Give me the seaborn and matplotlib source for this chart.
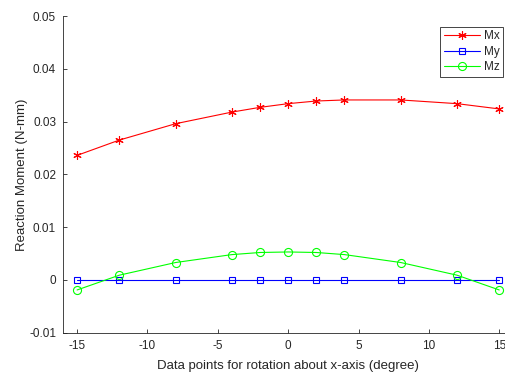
import numpy as np
import pandas as pd
import matplotlib
matplotlib.use("Agg")
import matplotlib.pyplot as plt
import seaborn as sns

# rotation angles (degree)
angle = [-15, -12, -8, -4, -2, 0, 2, 4, 8, 12, 15]

# reaction moments
mx = [0.0236, 0.0265, 0.0296, 0.0318, 0.0327, 0.0334, 0.0339, 0.0341, 0.0341, 0.0334, 0.0324]
my = [0, 0, 0, 0, 0, 0, 0, 0, 0, 0, 0]
mz = [-0.0019, 0.0009, 0.0033, 0.0048, 0.0052, 0.0053, 0.0052, 0.0048, 0.0033, 0.0009, -0.0019]

sns.set_style("ticks")
plt.rcParams['font.family'] = ['Liberation Sans', 'DejaVu Sans']
plt.rcParams['axes.unicode_minus'] = False
plt.rcParams['xtick.direction'] = 'in'
plt.rcParams['ytick.direction'] = 'in'

fig = plt.figure(figsize=(5.05, 3.72), dpi=100)
# axes runs past the right edge, like the cropped original
ax = fig.add_axes([0.1248, 0.1056, 0.8917, 0.8513])

sns.lineplot(x=angle, y=mx, ax=ax, color='#ff0000', marker=(6, 2, 0), markersize=6,
             markeredgecolor='#ff0000', markeredgewidth=0.8, linewidth=0.8, label='Mx')
sns.lineplot(x=angle, y=my, ax=ax, color='#0000ff', marker='s', markersize=4.5,
             markerfacecolor='none', markeredgecolor='#0000ff', markeredgewidth=0.8,
             linewidth=0.8, label='My')
sns.lineplot(x=angle, y=mz, ax=ax, color='#00ff00', marker='o', markersize=5.8,
             markerfacecolor='none', markeredgecolor='#00ff00', markeredgewidth=0.8,
             linewidth=0.8, label='Mz')

ax.set_xlim(-16, 16)
ax.set_ylim(-0.01, 0.05)
ax.set_xticks([-15, -10, -5, 0, 5, 10, 15])
ax.set_yticks([-0.01, 0, 0.01, 0.02, 0.03, 0.04, 0.05])
ax.set_yticklabels(['-0.01', '0', '0.01', '0.02', '0.03', '0.04', '0.05'])
ax.tick_params(labelsize=8.5, colors='#262626', length=3, width=0.6, pad=5)
sns.despine(ax=ax)
for s in ax.spines.values():
    s.set_linewidth(0.6)
    s.set_color('#262626')

ax.set_xlabel('Data points for rotation about x-axis (degree)', fontsize=9.5,
              color='#262626', labelpad=6)
ax.set_ylabel('Reaction Moment (N-mm)', fontsize=9.5, color='#262626', labelpad=1)

leg = ax.legend(loc='upper right', bbox_to_anchor=(0.996, 0.928),
                bbox_transform=fig.transFigure, borderaxespad=0,
                fontsize=8.5, frameon=True, fancybox=False, framealpha=1,
                edgecolor='#262626', handlelength=3.1,
                labelspacing=0.3, borderpad=0.3, handletextpad=0.3)
leg.get_frame().set_linewidth(0.6)

fig.savefig('out.png', dpi=100)
